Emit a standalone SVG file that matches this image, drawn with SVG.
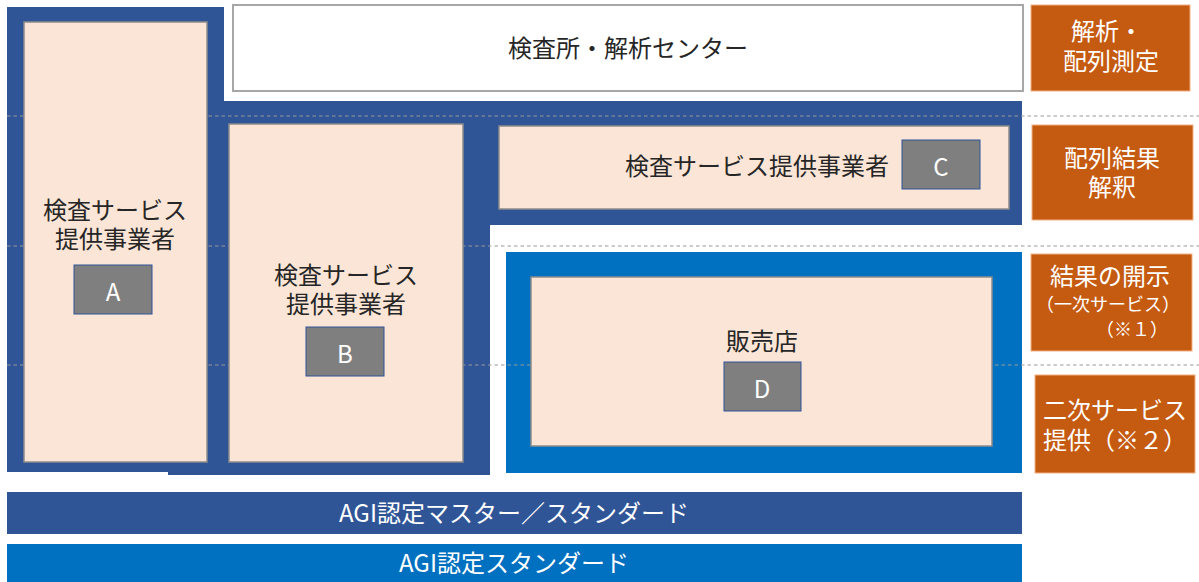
<svg xmlns="http://www.w3.org/2000/svg" width="1199" height="582" viewBox="0 0 1199 582">
<style>
text{font-family:"Noto Sans CJK JP","Noto Sans",sans-serif;text-anchor:middle;dominant-baseline:central}
.pink{fill:#fbe5d6;stroke:#8c8c8c;stroke-width:1.5}
.gbox{fill:#7f7f7f;stroke:#2f5597;stroke-width:1}
.dk{fill:#262626;font-size:24px}
.wt{fill:#ffffff;font-size:24px}
.org{fill:#c55a11;stroke:#f4b183;stroke-width:1}
.dash{stroke:#9a9a9a;stroke-width:1.2;stroke-dasharray:3.5 3}
</style>
<g id="frame">
<polygon points="7,7 224,7 224,101 1022,101 1022,225 490,225 490,475 168,475 168,472 7,472" fill="#2f5597"/>
<rect x="506" y="252" width="516" height="221" fill="#0070c0"/>
</g>
<g id="guides">
<line class="dash" x1="7" y1="116" x2="1199" y2="116"/>
<line class="dash" x1="7" y1="246" x2="1199" y2="246"/>
<line class="dash" x1="7" y1="365" x2="1199" y2="365"/>
</g>
<g id="center">
<rect x="233" y="5" width="790" height="86" fill="#ffffff" stroke="#a6a6a6" stroke-width="2"/>
<text class="dk" x="628" y="46">検査所・解析センター</text>
</g>
<g id="nodeA">
<rect class="pink" x="24" y="22" width="183" height="440"/>
<text class="dk"><tspan x="115" y="208">検査サービス</tspan><tspan x="115" y="237">提供事業者</tspan></text>
<rect class="gbox" x="74" y="265" width="78" height="49"/>
<text class="wt" x="113" y="290">A</text>
</g>
<g id="nodeB">
<rect class="pink" x="229" y="124" width="234" height="338"/>
<text class="dk"><tspan x="346" y="273">検査サービス</tspan><tspan x="346" y="302">提供事業者</tspan></text>
<rect class="gbox" x="306" y="327" width="78" height="49"/>
<text class="wt" x="345" y="352">B</text>
</g>
<g id="nodeC">
<rect class="pink" x="499" y="126" width="510" height="83"/>
<text class="dk" x="889" y="164" style="text-anchor:end">検査サービス提供事業者</text>
<rect class="gbox" x="902" y="140" width="78" height="49"/>
<text class="wt" x="941" y="165">C</text>
</g>
<g id="nodeD">
<rect class="pink" x="531" y="277" width="461" height="169"/>
<text class="dk" x="762" y="339">販売店</text>
<rect class="gbox" x="724" y="362" width="77" height="49"/>
<text class="wt" x="762" y="387">D</text>
</g>
<g id="labels">
<rect class="org" x="1031" y="5" width="159" height="86"/>
<text class="wt"><tspan x="1107" y="29">解析・</tspan><tspan x="1111" y="59">配列測定</tspan></text>
<rect class="org" x="1032" y="125" width="161" height="95"/>
<text class="wt"><tspan x="1112" y="156">配列結果</tspan><tspan x="1112" y="185">解釈</tspan></text>
<rect class="org" x="1031" y="254" width="161" height="97"/>
<text class="wt"><tspan x="1110" y="274">結果の開示</tspan><tspan x="1108" y="303" style="font-size:18px">（一次サービス）</tspan><tspan x="1132" y="328" style="font-size:18px">（※１）</tspan></text>
<rect class="org" x="1035" y="375" width="160" height="98"/>
<text class="wt"><tspan x="1115" y="408">二次サービス</tspan><tspan x="1115" y="438">提供（※２）</tspan></text>
</g>
<g id="bars">
<rect x="7" y="492" width="1015" height="42" fill="#2f5597"/>
<text class="wt" x="514" y="511">AGI認定マスター／スタンダード</text>
<rect x="7" y="544" width="1015" height="38" fill="#0070c0"/>
<text class="wt" x="514" y="561">AGI認定スタンダード</text>
</g>
</svg>
